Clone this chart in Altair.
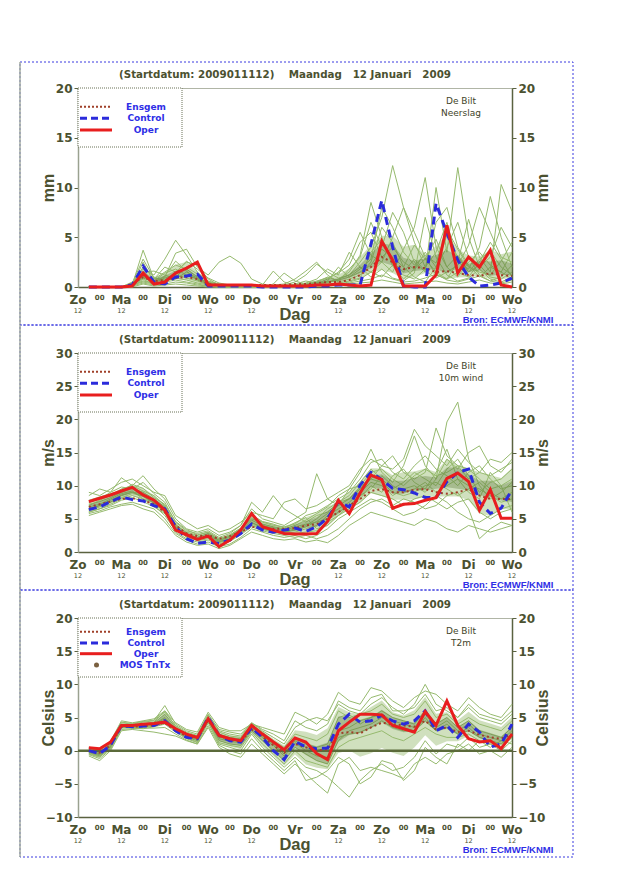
import altair as alt
import numpy as np
import pandas as pd

# ---------------- data ----------------
HOURS = [6 * i for i in range(1, 41)]          # +6h .. +240h from Zo 11 Jan 12 UTC
DAY_HOURS = list(range(0, 241, 24))
DAY_NAMES = ["Zo", "Ma", "Di", "Wo", "Do", "Vr", "Za", "Zo", "Ma", "Di", "Wo"]
MID_HOURS = list(range(12, 229, 24))
MID_LABELS = ["00"] * 10
SUB_HOURS = [0, 24, 48, 72, 96, 144, 168, 192, 216, 240]   # under Vr the axis title sits
SUB_LABELS = ["12"] * 10

# Panel 1: Neerslag (mm)
p1_oper = [0, 0, 0, 0, 0.1, 1.4, 0.3, 0.5, 1.4, 1.9,
           2.5, 0.2, 0.2, 0.2, 0.2, 0.2, 0.1, 0.1, 0.1, 0.1,
           0.1, 0.2, 0.2, 0.3, 0.2, 0.1, 0.2, 4.6, 2.7, 0.1,
           0.1, 0.1, 1.2, 6.2, 1.4, 3.0, 2.0, 3.7, 0.2, 0.0]
p1_ctrl = [0, 0, 0, 0, 0.2, 2.1, 0.5, 0.3, 1.0, 1.1,
           1.3, 0.1, 0.1, 0.1, 0.1, 0.1, 0, 0, 0, 0,
           0, 0.1, 0.1, 0.2, 0.2, 0.2, 4.3, 8.7, 4.0, 0.1,
           0, 0, 8.4, 5.4, 2.7, 1.0, 0.1, 0.2, 0.4, 0.9]
p1_mean = [0, 0, 0, 0, 0.3, 1.0, 0.6, 0.7, 0.9, 1.0,
           0.8, 0.3, 0.2, 0.2, 0.2, 0.2, 0.2, 0.2, 0.2, 0.3,
           0.3, 0.4, 0.5, 0.5, 0.7, 1.2, 2.0, 3.0, 2.5, 1.8,
           2.0, 1.9, 1.5, 1.6, 1.4, 1.2, 1.1, 1.4, 1.2, 1.1]
p1_members = [
    [0, 0, 0, 0, 0.2, 3.7, 0.8, 1.5, 2.2, 1.8, 1.0, 0.4, 0.2, 0.1, 0, 0, 0, 0, 0.1, 0.3,
     0.6, 0.4, 0.5, 0.8, 1.5, 3.2, 8.5, 5.0, 2.1, 0.8, 1.8, 3.5, 2.0, 5.2, 3.0, 1.5, 2.2, 1.0, 0.8, 1.5],
    [0, 0, 0, 0, 0.5, 1.8, 1.2, 2.8, 4.7, 3.2, 1.5, 0.5, 0.3, 0.2, 0.1, 0, 0, 0.1, 0.2, 0.5,
     1.2, 2.3, 1.5, 0.9, 1.2, 2.5, 4.0, 7.0, 12.2, 8.0, 4.5, 2.0, 3.5, 6.5, 2.5, 1.8, 4.0, 9.1, 5.0, 2.0],
    [0, 0, 0, 0, 0.1, 2.5, 0.5, 1.0, 3.4, 3.8, 2.0, 1.2, 2.5, 3.1, 2.4, 0.8, 0.3, 0.1, 0, 0.1,
     0.2, 0.3, 0.8, 1.5, 2.8, 5.5, 3.2, 2.5, 1.5, 3.8, 6.0, 11.0, 4.0, 2.0, 1.0, 2.5, 3.5, 2.2, 1.5, 3.5],
    [0, 0, 0, 0, 0.3, 1.0, 0.8, 2.0, 1.5, 2.5, 2.2, 0.8, 0.2, 0, 0, 0, 0.2, 1.6, 0.5, 0.2,
     0.1, 0.5, 1.0, 0.6, 1.8, 3.0, 6.5, 4.0, 7.5, 5.5, 2.5, 1.5, 10.0, 3.5, 12.0, 5.0, 2.0, 3.0, 6.0, 4.0],
    [0, 0, 0, 0, 0.4, 1.5, 1.6, 1.2, 0.8, 1.5, 0.9, 0.3, 0.1, 0, 0, 0.1, 0, 0.3, 1.4, 0.6,
     0.3, 0.2, 0.6, 2.0, 1.0, 1.5, 2.2, 3.8, 3.0, 2.0, 4.2, 2.8, 1.5, 0.8, 2.5, 6.8, 3.0, 1.5, 10.3, 7.6],
    [0, 0, 0, 0, 0.2, 0.6, 0.4, 0.9, 1.2, 0.9, 0.6, 0.2, 0.1, 0, 0, 0, 0, 0.2, 0.3, 0.8,
     1.6, 2.5, 1.2, 0.5, 0.8, 1.2, 2.5, 6.0, 4.5, 2.0, 1.0, 0.5, 2.0, 4.0, 6.5, 3.0, 1.2, 0.6, 1.0, 2.2],
    [0, 0, 0, 0, 0, 0.8, 0.2, 0.5, 0.7, 0.5, 0.3, 0.1, 0, 0, 0, 0, 0, 0, 0, 0.1,
     0.2, 0.3, 0.4, 0.3, 0.5, 0.8, 1.5, 2.5, 5.0, 8.0, 5.5, 3.0, 1.2, 0.8, 1.5, 1.0, 2.5, 4.5, 2.8, 1.0],
    [0, 0, 0, 0, 0.1, 1.2, 0.6, 1.4, 1.8, 1.2, 0.8, 0.5, 0.2, 0.1, 0, 0, 0, 0, 0.1, 0.2,
     0.4, 0.8, 1.8, 1.2, 3.5, 2.0, 1.5, 1.0, 2.2, 1.2, 0.8, 1.8, 6.5, 8.0, 4.0, 2.2, 1.0, 2.0, 1.5, 0.8],
    [0, 0, 0, 0, 0.2, 0.5, 0.3, 0.6, 0.9, 0.7, 0.4, 0.2, 0.1, 0, 0, 0, 0, 0, 0.1, 0.1,
     0.2, 0.2, 0.3, 0.4, 0.6, 0.9, 3.5, 4.8, 2.5, 1.5, 2.8, 1.6, 0.9, 1.5, 2.2, 4.2, 8.0, 5.5, 3.0, 2.5],
    [0, 0, 0, 0, 0.3, 2.0, 1.0, 0.6, 1.0, 2.0, 1.3, 0.6, 0.3, 0.2, 0.1, 0, 0, 0, 0, 0.2,
     0.3, 0.5, 0.4, 0.8, 1.2, 2.0, 1.0, 1.8, 0.9, 0.6, 1.4, 7.0, 3.0, 1.2, 0.6, 0.9, 1.8, 0.8, 0.5, 1.0],
    [0, 0, 0, 0, 0.1, 0.4, 0.2, 0.3, 0.5, 0.4, 0.2, 0.1, 0, 0, 0, 0, 0, 0, 0, 0,
     0.1, 0.1, 0.2, 0.2, 0.4, 0.6, 0.8, 1.2, 0.8, 0.5, 0.6, 0.9, 1.3, 0.7, 0.5, 0.8, 1.1, 0.6, 0.4, 0.7],
    [0, 0, 0, 0, 0, 0.3, 0.1, 0.2, 0.3, 0.2, 0.1, 0, 0, 0, 0, 0, 0, 0, 0, 0,
     0, 0.1, 0.1, 0.2, 0.3, 0.4, 0.5, 0.7, 0.5, 0.3, 0.4, 0.5, 0.6, 0.4, 0.3, 0.5, 0.7, 0.4, 0.3, 0.5],
    [0, 0, 0, 0, 0.2, 0.9, 0.5, 1.1, 2.6, 1.6, 0.7, 0.3, 0.2, 0.1, 0, 0, 0, 0, 0, 0.1,
     0.3, 0.6, 0.9, 1.4, 2.2, 4.5, 5.5, 3.0, 4.0, 2.5, 1.8, 2.8, 4.8, 2.0, 3.2, 1.5, 2.8, 3.6, 2.0, 1.2],
    [0, 0, 0, 0, 0.4, 2.8, 0.9, 0.7, 1.4, 2.6, 1.8, 0.9, 0.4, 0.2, 0, 0, 0, 0, 0, 0,
     0.1, 0.2, 0.5, 0.7, 1.0, 1.8, 2.8, 8.0, 6.0, 3.5, 2.2, 3.2, 2.4, 5.8, 3.8, 2.0, 1.5, 1.2, 2.6, 4.5],
]

# Panel 2: 10m wind (m/s)
p2_oper = [7.6, 8.1, 8.6, 9.2, 9.75, 8.6, 7.8, 6.3, 3.3, 2.6,
           1.9, 2.4, 0.8, 1.8, 3.3, 5.8, 3.8, 3.3, 2.8, 2.7,
           2.7, 2.8, 4.6, 7.8, 5.8, 8.9, 11.6, 10.9, 6.6, 7.2,
           7.3, 7.8, 8.2, 11.1, 11.9, 10.6, 6.3, 9.4, 5.1, 5.1]
p2_ctrl = [6.4, 6.8, 7.6, 8.3, 7.9, 7.7, 7.0, 6.5, 3.8, 2.0,
           1.3, 1.5, 1.3, 1.8, 2.8, 4.2, 3.3, 3.0, 3.3, 3.6,
           3.1, 3.8, 5.1, 7.6, 6.8, 10.1, 12.0, 10.9, 9.6, 9.4,
           8.9, 8.2, 8.2, 10.6, 12.0, 12.5, 7.5, 5.8, 6.6, 9.4]
p2_mean = [6.8, 7.2, 7.6, 8.0, 8.1, 7.8, 7.2, 6.0, 4.0, 2.8,
           2.4, 2.5, 2.0, 2.4, 3.0, 3.8, 3.6, 3.5, 3.5, 3.6,
           4.0, 4.2, 5.0, 6.0, 7.0, 8.0, 9.2, 9.5, 9.0, 9.0,
           9.4, 9.5, 9.0, 8.8, 9.0, 9.5, 8.5, 8.0, 8.0, 8.0]
p2_members = [
    [6.0, 6.5, 7.2, 8.0, 8.5, 8.0, 7.5, 6.0, 3.5, 2.5, 2.0, 2.2, 1.5, 1.8, 2.8, 4.5, 3.5, 3.2, 3.0, 3.5,
     4.0, 5.0, 6.5, 7.5, 8.5, 10.5, 12.5, 11.0, 9.5, 10.5, 12.0, 11.0, 10.0, 12.5, 14.0, 11.5, 9.0, 10.5, 11.0, 12.5],
    [7.0, 7.8, 8.5, 9.5, 10.0, 9.2, 8.5, 7.0, 4.0, 3.0, 2.5, 3.0, 2.0, 2.5, 3.5, 5.0, 4.5, 4.0, 3.8, 4.2,
     5.5, 6.0, 7.0, 8.0, 9.0, 11.0, 13.5, 14.0, 12.0, 11.0, 13.0, 14.5, 12.5, 11.5, 10.0, 12.0, 13.0, 11.0, 9.5, 10.0],
    [5.8, 6.2, 6.8, 7.2, 7.5, 7.0, 6.5, 5.0, 2.8, 1.8, 1.2, 1.5, 0.8, 1.2, 2.2, 3.5, 3.0, 2.5, 2.2, 2.5,
     2.0, 2.5, 3.5, 5.0, 6.0, 7.0, 8.0, 7.5, 6.5, 5.5, 6.0, 7.0, 8.5, 7.5, 6.0, 5.0, 4.5, 5.5, 6.5, 7.0],
    [8.5, 9.5, 9.0, 11.2, 10.0, 11.5, 9.5, 8.0, 5.0, 3.5, 3.0, 3.5, 2.5, 3.0, 4.0, 6.5, 5.0, 4.5, 4.0, 5.0,
     6.0, 11.8, 8.0, 7.0, 9.5, 12.0, 15.5, 12.0, 10.5, 13.0, 17.5, 13.0, 11.0, 14.0, 12.5, 15.0, 16.0, 13.0, 12.0, 14.0],
    [6.5, 7.0, 7.5, 8.2, 8.8, 8.5, 7.8, 6.5, 3.8, 2.2, 1.8, 2.6, 1.6, 2.0, 3.0, 4.2, 3.5, 3.0, 2.8, 3.0,
     3.5, 4.0, 5.5, 6.5, 7.5, 9.0, 10.5, 10.0, 8.5, 9.5, 10.0, 9.0, 11.0, 19.6, 22.6, 14.0, 10.0, 8.0, 9.0, 10.5],
    [6.2, 6.8, 7.5, 8.5, 9.0, 8.8, 7.2, 6.2, 3.0, 2.0, 1.5, 1.8, 1.0, 1.6, 2.6, 3.8, 3.2, 2.8, 2.5, 2.2,
     2.5, 2.0, 2.5, 3.5, 5.0, 6.5, 7.5, 8.0, 7.0, 8.0, 7.5, 6.5, 7.0, 8.5, 9.0, 6.5, 2.0, 3.5, 4.5, 4.0],
    [7.5, 8.0, 9.0, 9.8, 9.5, 10.5, 8.8, 7.5, 4.5, 3.2, 2.8, 3.2, 2.2, 2.8, 4.0, 7.5, 6.0, 8.5, 6.5, 5.5,
     4.5, 5.5, 6.0, 7.5, 8.0, 9.5, 11.0, 13.0, 14.5, 12.0, 11.0, 12.0, 18.7, 14.5, 13.0, 11.0, 12.0, 14.0, 13.5, 15.0],
    [6.8, 7.2, 8.0, 8.8, 9.2, 8.0, 7.0, 5.5, 3.2, 2.6, 2.0, 2.4, 1.8, 2.2, 3.2, 4.8, 4.0, 3.6, 3.2, 3.8,
     4.2, 4.5, 5.0, 6.0, 7.0, 8.5, 9.5, 11.5, 10.0, 9.0, 9.5, 10.5, 9.0, 10.0, 11.0, 10.0, 9.5, 8.5, 7.5, 8.0],
    [5.5, 6.0, 6.5, 7.0, 7.2, 6.5, 6.0, 4.5, 2.5, 1.5, 1.0, 1.2, 0.5, 1.0, 2.0, 3.0, 2.5, 2.0, 1.8, 2.0,
     1.5, 1.8, 1.4, 2.5, 4.0, 5.0, 6.0, 5.5, 5.0, 4.5, 4.0, 5.0, 4.5, 3.5, 3.0, 4.0, 3.5, 3.0, 3.5, 4.0],
    [9.0, 8.5, 9.5, 10.5, 11.0, 10.0, 9.0, 8.5, 5.5, 4.5, 3.5, 4.0, 3.0, 3.5, 4.5, 6.0, 5.5, 5.0, 7.5, 8.0,
     6.5, 7.0, 8.0, 9.0, 10.0, 12.5, 14.0, 13.0, 12.5, 14.0, 18.5, 16.0, 14.5, 13.0, 15.5, 13.5, 12.0, 11.5, 12.5, 13.5],
    [6.0, 6.5, 7.0, 7.8, 8.2, 7.6, 6.8, 5.8, 3.4, 2.4, 1.7, 2.0, 1.2, 1.7, 2.8, 4.0, 3.4, 3.0, 2.7, 2.8,
     3.0, 3.2, 4.5, 5.5, 6.5, 7.5, 9.0, 8.5, 8.0, 7.0, 8.0, 8.5, 7.5, 6.5, 7.5, 8.0, 6.0, 5.0, 6.0, 6.5],
    [7.2, 7.6, 8.2, 9.0, 9.6, 9.0, 8.0, 6.8, 4.2, 2.8, 2.2, 2.8, 1.8, 2.4, 3.4, 5.2, 4.2, 3.8, 3.5, 4.0,
     4.8, 5.8, 6.8, 8.5, 9.5, 10.0, 12.0, 12.5, 11.0, 10.0, 11.5, 12.5, 11.5, 12.0, 13.0, 12.5, 11.0, 9.5, 10.0, 11.0],
    [6.4, 7.0, 7.8, 8.6, 9.0, 8.4, 7.4, 6.0, 3.6, 2.4, 1.9, 2.3, 1.4, 1.9, 3.0, 4.4, 3.8, 3.3, 3.0, 3.3,
     3.8, 4.6, 5.8, 7.0, 8.0, 9.8, 11.0, 10.5, 9.0, 8.5, 9.0, 10.0, 10.5, 9.5, 8.5, 9.5, 10.5, 9.0, 8.0, 9.0],
    [7.8, 8.3, 8.8, 9.2, 10.2, 9.6, 8.2, 7.2, 4.6, 3.4, 2.6, 3.0, 2.0, 2.6, 3.6, 5.6, 4.6, 4.2, 3.6, 4.4,
     5.2, 3.5, 4.0, 5.5, 7.0, 8.0, 10.0, 9.0, 11.5, 12.5, 10.5, 9.5, 12.0, 15.5, 11.0, 9.0, 8.0, 12.0, 10.0, 6.0],
]

# Panel 3: T2m (Celsius)
p3_oper = [0.45, 0.3, 1.3, 3.8, 3.8, 4.0, 4.1, 4.3, 3.3, 2.5,
           2.0, 4.8, 2.3, 1.8, 1.5, 3.8, 2.5, 1.3, 0.15, 1.9,
           1.3, -0.45, -1.35, 3.0, 4.3, 5.5, 5.5, 5.4, 3.8, 3.3,
           2.8, 5.9, 3.8, 7.5, 3.8, 1.8, 1.3, 1.5, 0.3, 2.5]
p3_ctrl = [0.0, -0.45, 0.8, 3.8, 3.6, 3.7, 3.8, 4.5, 3.0, 2.0,
           1.8, 5.0, 2.3, 1.5, 1.3, 3.5, 2.0, 0.0, -1.35, 1.4,
           0.55, 0.3, 0.4, 4.0, 5.5, 4.3, 4.5, 5.3, 4.5, 4.0,
           4.5, 6.0, 3.0, 3.8, 2.0, 4.0, 2.8, 0.55, 1.0, 4.0]
p3_mean = [0.0, -0.3, 0.8, 3.6, 3.6, 3.7, 3.8, 4.2, 3.0, 2.2,
           1.8, 4.6, 2.3, 1.6, 1.4, 3.2, 2.1, 0.8, -0.3, 1.0,
           0.5, 0.0, 0.2, 2.6, 2.8, 2.6, 3.5, 4.2, 4.0, 3.8,
           3.6, 4.5, 3.2, 3.5, 2.8, 3.0, 2.4, 2.0, 1.8, 2.5]
p3_members = [
    [-0.5, -1.0, 0.5, 3.5, 3.5, 3.6, 3.8, 4.5, 3.0, 2.0, 1.5, 4.5, 1.5, 1.0, 0.8, 3.0, 1.5, 0.0, -1.5, 0.5,
     -0.5, -1.5, -2.0, 1.5, 3.0, 3.5, 4.0, 5.0, 4.0, 3.5, 3.0, 5.0, 3.0, 4.0, 2.5, 3.5, 2.0, 1.5, 1.0, 2.0],
    [0.3, 0.0, 1.2, 4.2, 4.0, 4.3, 4.5, 6.8, 4.0, 3.0, 2.5, 5.5, 3.0, 2.5, 2.2, 4.2, 3.0, 2.0, 1.0, 3.5,
     4.5, 5.0, 4.5, 7.0, 6.0, 5.5, 7.0, 8.0, 6.5, 5.5, 7.0, 10.0, 7.0, 6.0, 5.0, 6.5, 5.0, 4.5, 4.0, 5.5],
    [-0.8, -1.5, 0.0, 3.0, 3.2, 3.0, 2.8, 2.5, 2.2, 1.5, 1.0, 3.5, 0.5, -0.5, -1.0, 1.0, -0.5, -2.0, -3.5, -2.0,
     -3.5, -5.0, -6.4, -2.0, -1.0, -3.0, -2.5, -3.0, -3.5, -4.2, -2.0, -1.0, -2.0, -0.5, 0.0, 1.0, -0.5, 0.0, -1.0, 0.5],
    [0.0, -0.5, 0.8, 3.8, 3.7, 3.9, 4.2, 5.5, 3.5, 2.5, 2.0, 5.0, 2.5, 2.0, 1.8, 3.8, 2.5, 1.2, 0.2, 2.0,
     1.0, 0.5, 1.0, 5.0, 5.5, 4.0, 5.0, 6.0, 5.0, 4.5, 4.0, 6.0, 4.0, 5.0, 3.5, 4.5, 3.0, 2.5, 2.0, 3.5],
    [0.2, -0.2, 1.0, 4.0, 3.8, 4.0, 4.0, 4.8, 3.2, 2.2, 1.8, 4.8, 2.0, 1.8, 1.5, 3.5, 2.2, 1.0, -0.5, 1.5,
     0.5, 0.0, 0.5, 3.0, 3.5, 4.5, 5.0, 5.5, 4.5, 4.0, 3.5, 5.5, 3.5, 4.5, 3.0, 4.0, 2.5, 2.0, 1.5, 3.0],
    [-0.3, -0.8, 0.4, 3.5, 3.4, 3.3, 3.6, 4.0, 2.8, 1.8, 1.2, 4.2, 1.0, 0.5, 0.0, 2.5, 0.5, -1.0, -2.5, -1.0,
     -2.5, -3.0, -4.0, -5.5, -7.0, -4.5, -3.0, -2.0, -3.0, -2.5, -1.0, 1.5, -0.5, 1.0, 0.5, 2.0, 0.5, 1.0, 0.0, 1.5],
    [0.5, 0.2, 1.4, 4.5, 4.2, 4.5, 4.8, 6.0, 4.2, 3.2, 2.8, 5.8, 3.5, 3.0, 3.0, 4.0, 3.5, 3.0, 2.5, 5.8,
     5.0, 4.0, 5.5, 8.8, 7.5, 7.0, 9.5, 9.0, 7.5, 6.5, 8.0, 9.0, 8.5, 7.0, 6.0, 8.0, 6.5, 5.5, 5.0, 7.0],
    [-0.2, -0.6, 0.6, 3.6, 3.6, 3.8, 4.0, 5.0, 3.3, 2.3, 1.7, 4.6, 1.8, 1.4, 1.2, 3.2, 2.0, 0.8, -0.8, 1.2,
     0.0, -0.8, -1.0, 2.0, 2.5, 2.8, 3.5, 4.5, 3.5, 3.0, 3.0, 4.5, 3.0, 3.5, 2.5, 3.0, 2.0, 1.5, 1.0, 2.5],
    [-0.6, -1.2, 0.2, 3.2, 3.3, 3.4, 3.4, 3.5, 2.5, 1.6, 1.0, 3.8, 0.8, 0.0, -0.5, 1.8, 0.0, -1.5, -3.0, -1.5,
     -4.5, -4.0, -3.0, -1.0, -2.0, -5.0, -4.0, -1.5, -2.0, -4.5, -3.0, 0.5, -1.0, -2.0, 1.0, 0.0, 1.5, 0.5, 1.5, 1.0],
    [0.1, -0.3, 1.1, 3.9, 3.9, 4.1, 4.3, 6.0, 3.7, 2.6, 2.2, 5.2, 2.8, 2.2, 2.0, 4.0, 2.8, 1.5, 0.5, 2.5,
     2.0, 1.5, 2.5, 6.0, 5.0, 5.5, 6.0, 7.0, 5.5, 5.0, 5.5, 7.5, 5.0, 5.5, 4.0, 5.0, 4.0, 3.5, 3.0, 4.5],
    [-0.4, -0.9, 0.3, 3.4, 3.5, 3.5, 3.7, 4.2, 2.9, 1.9, 1.3, 4.3, 1.2, 0.8, 0.5, 2.8, 1.0, -0.5, -2.0, 0.0,
     -1.5, -2.0, -2.5, 0.5, 1.5, 2.0, 2.5, 3.0, 2.0, 1.5, 2.5, 3.5, 2.5, 2.0, 2.0, 2.5, 1.5, 1.0, 0.5, 2.0],
    [0.4, 0.1, 1.3, 4.3, 4.1, 4.4, 4.6, 5.8, 3.8, 2.8, 2.3, 5.4, 3.2, 2.8, 2.5, 4.2, 3.2, 2.5, 1.5, 4.5,
     3.5, 3.0, 4.0, 7.5, 6.5, 6.0, 8.0, 8.5, 6.0, 6.0, 6.5, 8.5, 6.0, 6.5, 5.0, 7.0, 5.5, 5.0, 4.5, 6.0],
]

NB = "\u00a0"
TITLE = ("(Startdatum: 2009011112)" + NB * 4 + "Maandag" + NB * 3 +
         "12 Januari" + NB * 3 + "2009")

# ---------------- styles ----------------
W, H = 434, 199
TXT = "#4b5130"
AXC = "#5a6240"
BLUE_T = "#2e2ee6"
GREEN = "#96ba6e"
DARKG = "#4a6824"
RED = "#e81e1e"
BLUE = "#2b2bdb"
BROWN = "#a0402a"
ONE = pd.DataFrame({"a": [0]})


def panel(members, mean, ctrl, oper, ydom, ytitle, loc2, mos, fy0, fy1):
    xs = alt.Scale(domain=[0, 240], nice=False, zero=False)
    xax = alt.Axis(labels=False, ticks=False, title=None, grid=False,
                   domainColor=AXC, domainWidth=1.5)
    X = alt.X("h:Q", scale=xs, axis=xax)
    ys = alt.Scale(domain=ydom, nice=False, zero=False)
    vals = list(range(ydom[0], ydom[1] + 1, 5))

    def yax(orient, tx, dc):
        return alt.Axis(orient=orient, values=vals, title=ytitle, grid=False,
                        titleFont="Liberation Sans", titleFontSize=16,
                        titleFontWeight="bold", titleColor=TXT, titleAngle=270,
                        titleX=tx, titleY=H / 2, titleAlign="center",
                        titleBaseline="middle",
                        labelFont="DejaVu Sans", labelFontSize=12,
                        labelFontWeight="bold", labelColor=TXT, labelPadding=2,
                        tickColor=AXC, tickSize=4, domainColor=dc, domainWidth=1.5)

    mem_df = pd.DataFrame({
        "h": HOURS * len(members),
        "v": [v for m in members for v in m],
        "m": [k for k, m in enumerate(members) for _ in m],
    })
    arr = np.array(members, dtype=float)
    band_df = pd.DataFrame({"h": HOURS,
                            "olo": np.percentile(arr, 22, axis=0),
                            "ohi": np.percentile(arr, 78, axis=0),
                            "lo": np.percentile(arr, 35, axis=0),
                            "hi": np.percentile(arr, 65, axis=0)})
    main_df = pd.DataFrame({"h": HOURS, "mean": mean, "ctrl": ctrl, "oper": oper})

    L = []
    L.append(alt.Chart(band_df).mark_area(color=GREEN, opacity=0.45).encode(
        x=X, y=alt.Y("olo:Q", scale=ys, axis=None), y2="ohi:Q"))
    L.append(alt.Chart(mem_df).mark_line(color=GREEN, strokeWidth=1).encode(
        x=X, y=alt.Y("v:Q", scale=ys, axis=yax("left", -30, "#9aa290")), detail="m:N"))
    L.append(alt.Chart(band_df).mark_area(color=DARKG, opacity=0.3).encode(
        x=X, y=alt.Y("lo:Q", scale=ys, axis=None), y2="hi:Q"))
    if ydom[0] < 0:
        L.append(alt.Chart(pd.DataFrame({"z": [0]})).mark_rule(
            color="#5b6a3a", strokeWidth=2.5).encode(
            y=alt.Y("z:Q", scale=ys, axis=None)))
    L.append(alt.Chart(main_df).mark_line(color=BROWN, strokeWidth=2, strokeDash=[2, 3]).encode(
        x=X, y=alt.Y("mean:Q", scale=ys, axis=yax("right", 30, AXC))))
    L.append(alt.Chart(main_df).mark_line(color=BLUE, strokeWidth=3, strokeDash=[8, 5]).encode(
        x=X, y=alt.Y("ctrl:Q", scale=ys, axis=None)))
    L.append(alt.Chart(main_df).mark_line(color=RED, strokeWidth=3).encode(
        x=X, y=alt.Y("oper:Q", scale=ys, axis=None)))

    # x tick labels
    day_df = pd.DataFrame({"h": DAY_HOURS, "lab": DAY_NAMES})
    sub_df = pd.DataFrame({"h": SUB_HOURS, "lab": SUB_LABELS})
    mid_df = pd.DataFrame({"h": MID_HOURS, "lab": MID_LABELS})
    L.append(alt.Chart(day_df).mark_text(font="DejaVu Sans", fontSize=12, fontWeight="bold",
                                         color=TXT, baseline="middle").encode(
        x=X, y=alt.value(H + 12.5), text="lab:N"))
    L.append(alt.Chart(sub_df).mark_text(font="DejaVu Sans", fontSize=6.5,
                                         color=TXT, baseline="middle").encode(
        x=X, y=alt.value(H + 24.4), text="lab:N"))
    L.append(alt.Chart(mid_df).mark_text(font="DejaVu Sans", fontSize=7, fontWeight="bold",
                                         color=TXT, baseline="middle").encode(
        x=X, y=alt.value(H + 10.5), text="lab:N"))

    # legend
    L.append(alt.Chart(ONE).mark_rect(fill="white", stroke="#6a7258", strokeDash=[1, 1],
                                      strokeWidth=1).encode(
        x=alt.value(0), x2=alt.value(104), y=alt.value(0), y2=alt.value(59)))
    ys_leg = [13.7, 25, 35.7, 47] if mos else [18.7, 30.3, 42]
    styles = [("Ensgem", BROWN, 2, [2, 2]), ("Control", BLUE, 3, [7, 4]), ("Oper", RED, 3, None)]
    for (name, col, sw, dash), yy in zip(styles, ys_leg):
        kw = dict(color=col, strokeWidth=sw)
        if dash:
            kw["strokeDash"] = dash
        L.append(alt.Chart(ONE).mark_rule(**kw).encode(
            x=alt.value(2), x2=alt.value(34), y=alt.value(yy)))
        L.append(alt.Chart(ONE).mark_text(font="DejaVu Sans", fontSize=9, fontWeight="bold",
                                          color=BLUE_T, align="center", baseline="middle").encode(
            x=alt.value(68), y=alt.value(yy), text=alt.value(name)))
    if mos:
        L.append(alt.Chart(ONE).mark_point(filled=True, color="#7a6040", size=25, opacity=1).encode(
            x=alt.value(18.5), y=alt.value(ys_leg[3])))
        L.append(alt.Chart(ONE).mark_text(font="DejaVu Sans", fontSize=9, fontWeight="bold",
                                          color=BLUE_T, align="center", baseline="middle").encode(
            x=alt.value(67), y=alt.value(ys_leg[3]), text=alt.value("MOS TnTx")))

    # texts
    L.append(alt.Chart(ONE).mark_text(font="DejaVu Sans", fontSize=10.3, fontWeight="bold",
                                      color=TXT, align="center", baseline="middle").encode(
        x=alt.value(207), y=alt.value(-13), text=alt.value(TITLE)))
    for txt, yy in [("De Bilt", 12.7), (loc2, 25.3)]:
        L.append(alt.Chart(ONE).mark_text(font="DejaVu Sans", fontSize=9,
                                          color="#3f4428", align="center", baseline="middle").encode(
            x=alt.value(383), y=alt.value(yy), text=alt.value(txt)))
    L.append(alt.Chart(ONE).mark_text(font="Liberation Sans", fontSize=9.5, fontWeight="bold",
                                      color=BLUE_T, align="center", baseline="middle").encode(
        x=alt.value(430), y=alt.value(232.3), text=alt.value("Bron: ECMWF/KNMI")))
    L.append(alt.Chart(ONE).mark_text(font="Liberation Sans", fontSize=16.5, fontWeight="bold",
                                      color=TXT, align="center", baseline="middle").encode(
        x=alt.value(217), y=alt.value(227), text=alt.value("Dag")))

    # frame
    L.append(alt.Chart(ONE).mark_rect(fillOpacity=0, stroke="#3a3ae0", strokeDash=[2, 2],
                                      strokeWidth=1).encode(
        x=alt.value(-58), x2=alt.value(495), y=alt.value(fy0), y2=alt.value(fy1)))
    L.append(alt.Chart(ONE).mark_rule(color="#a4aca0", strokeWidth=1.5).encode(
        x=alt.value(-58), y=alt.value(fy0), y2=alt.value(fy1)))

    return alt.layer(*L).resolve_axis(y="independent").properties(width=W, height=H)


c1 = panel(p1_members, p1_mean, p1_ctrl, p1_oper, [0, 20], "mm", "Neerslag", False, -26, 237)
c2 = panel(p2_members, p2_mean, p2_ctrl, p2_oper, [0, 30], "m/s", "10m wind", False, -28, 237)
c3 = panel(p3_members, p3_mean, p3_ctrl, p3_oper, [-10, 20], "Celsius", "T2m", True, -28, 239)

chart = alt.vconcat(c1, c2, c3, spacing=66, bounds="flush").properties(
    padding={"left": 10, "top": 52, "right": 5, "bottom": 5},
    background="white",
).configure_view(stroke="#b0b5a6", strokeWidth=1)

chart.save("out.html", embed_options={"renderer": "svg", "actions": False})
